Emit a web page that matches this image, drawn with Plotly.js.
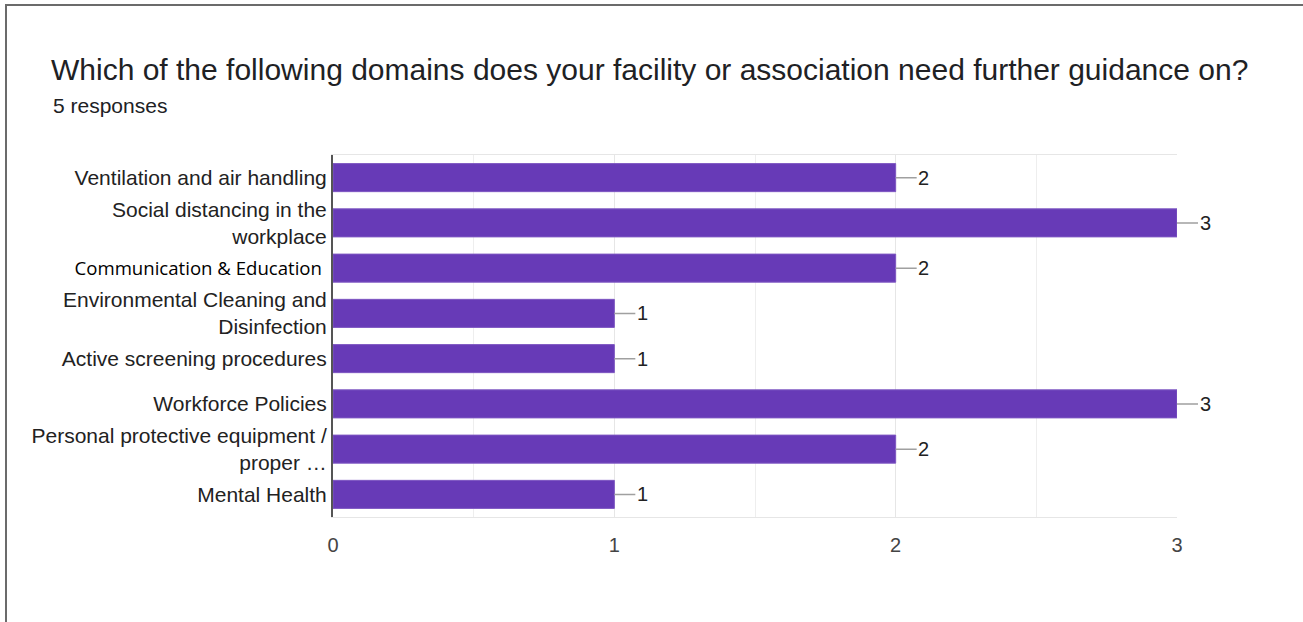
<!DOCTYPE html>
<html>
<head>
<meta charset="utf-8">
<script src="https://cdn.plot.ly/plotly-3.0.1.min.js"></script>
<style>
html,body{margin:0;padding:0;background:#fff;}
#wrap{position:relative;width:1303px;height:622px;overflow:hidden;}
#frame{position:absolute;left:5px;top:4px;width:1310px;height:640px;border-top:2px solid #6b6b6b;border-left:2px solid #6b6b6b;pointer-events:none;z-index:5;}
#chart{position:absolute;left:0;top:0;width:1303px;height:622px;}
</style>
</head>
<body>
<div id="wrap">
<div id="chart"></div>
<div id="frame"></div>
</div>
<script>
const categories = [
  "Ventilation and air handling",
  "Social distancing in the workplace",
  "Communication & Education",
  "Environmental Cleaning and Disinfection",
  "Active screening procedures",
  "Workforce Policies",
  "Personal protective equipment / proper …",
  "Mental Health"
];
const tickLabels = [
  "Ventilation and air handling",
  "Social distancing in the<br>workplace",
  "<span style=\"font-family:'Open Sans',sans-serif;color:#000;font-size:18.6px\">Communication &amp; Education </span>",
  "Environmental Cleaning and<br>Disinfection",
  "Active screening procedures",
  "Workforce Policies",
  "Personal protective equipment /<br>proper …",
  "Mental Health"
];
const responses = [2, 3, 2, 1, 1, 3, 2, 1];
const xTicks = [0, 1, 2, 3];

const W = 1303, H = 622;
const L = 333, R = 1177, T = 155, B = 517;
const px = x => (x - L) / (R - L);
const py = y => (B - y) / (B - T);

const annotations = categories.map((c, i) => ({
  x: responses[i], y: c, xref: 'x', yref: 'y',
  text: String(responses[i]),
  showarrow: true, arrowhead: 0, arrowwidth: 1.5, arrowcolor: '#a0a0a0',
  ax: 28, ay: 0, standoff: 0, startstandoff: 0,
  font: {family: 'Liberation Sans, Arial, sans-serif', size: 20, color: '#222'}
}));
annotations.push({
  xref: 'paper', yref: 'paper', x: px(51), y: py(105),
  xanchor: 'left', yanchor: 'middle', showarrow: false,
  text: '5 responses',
  font: {family: 'Liberation Sans, Arial, sans-serif', size: 21, color: '#202124'}
});

const trace = {
  type: 'bar', orientation: 'h',
  x: responses, y: categories,
  marker: {color: '#673ab7', line: {color: '#7e57c2', width: 1}},
  hoverinfo: 'x+y'
};

const layout = {
  width: W, height: H,
  margin: {l: L, r: W - R, t: T, b: H - B, pad: 0},
  paper_bgcolor: '#fff', plot_bgcolor: '#fff',
  showlegend: false,
  bargap: 0.38,
  title: {
    text: 'Which of the following domains does your facility or association need further guidance on?',
    xref: 'container', yref: 'container',
    x: 51 / W, xanchor: 'left', y: 1 - 69 / H, yanchor: 'middle',
    font: {family: 'Liberation Sans, Arial, sans-serif', size: 30, color: '#202124'}
  },
  xaxis: {
    range: [0, 3], tickmode: 'array', tickvals: xTicks, ticktext: xTicks.map(String),
    showgrid: true, gridcolor: '#e6e6e6', gridwidth: 1,
    minor: {dtick: 0.5, tick0: 0, showgrid: true, gridcolor: '#eeeeee', gridwidth: 1},
    zeroline: false, showline: true, mirror: true, linecolor: '#e6e6e6', linewidth: 1,
    ticks: '', ticklabelstandoff: 10,
    tickfont: {family: 'Liberation Sans, Arial, sans-serif', size: 20, color: '#444'},
    fixedrange: true
  },
  yaxis: {
    type: 'category', autorange: 'reversed',
    tickmode: 'array', tickvals: categories, ticktext: tickLabels,
    showgrid: false, zeroline: false,
    showline: true, linecolor: '#555', linewidth: 2,
    ticks: '', ticklabelstandoff: 0,
    tickfont: {family: 'Liberation Sans, Arial, sans-serif', size: 21, color: '#222'},
    fixedrange: true
  },
  annotations: annotations
};

Plotly.newPlot('chart', [trace], layout, {displayModeBar: false, staticPlot: true});
</script>
</body>
</html>
